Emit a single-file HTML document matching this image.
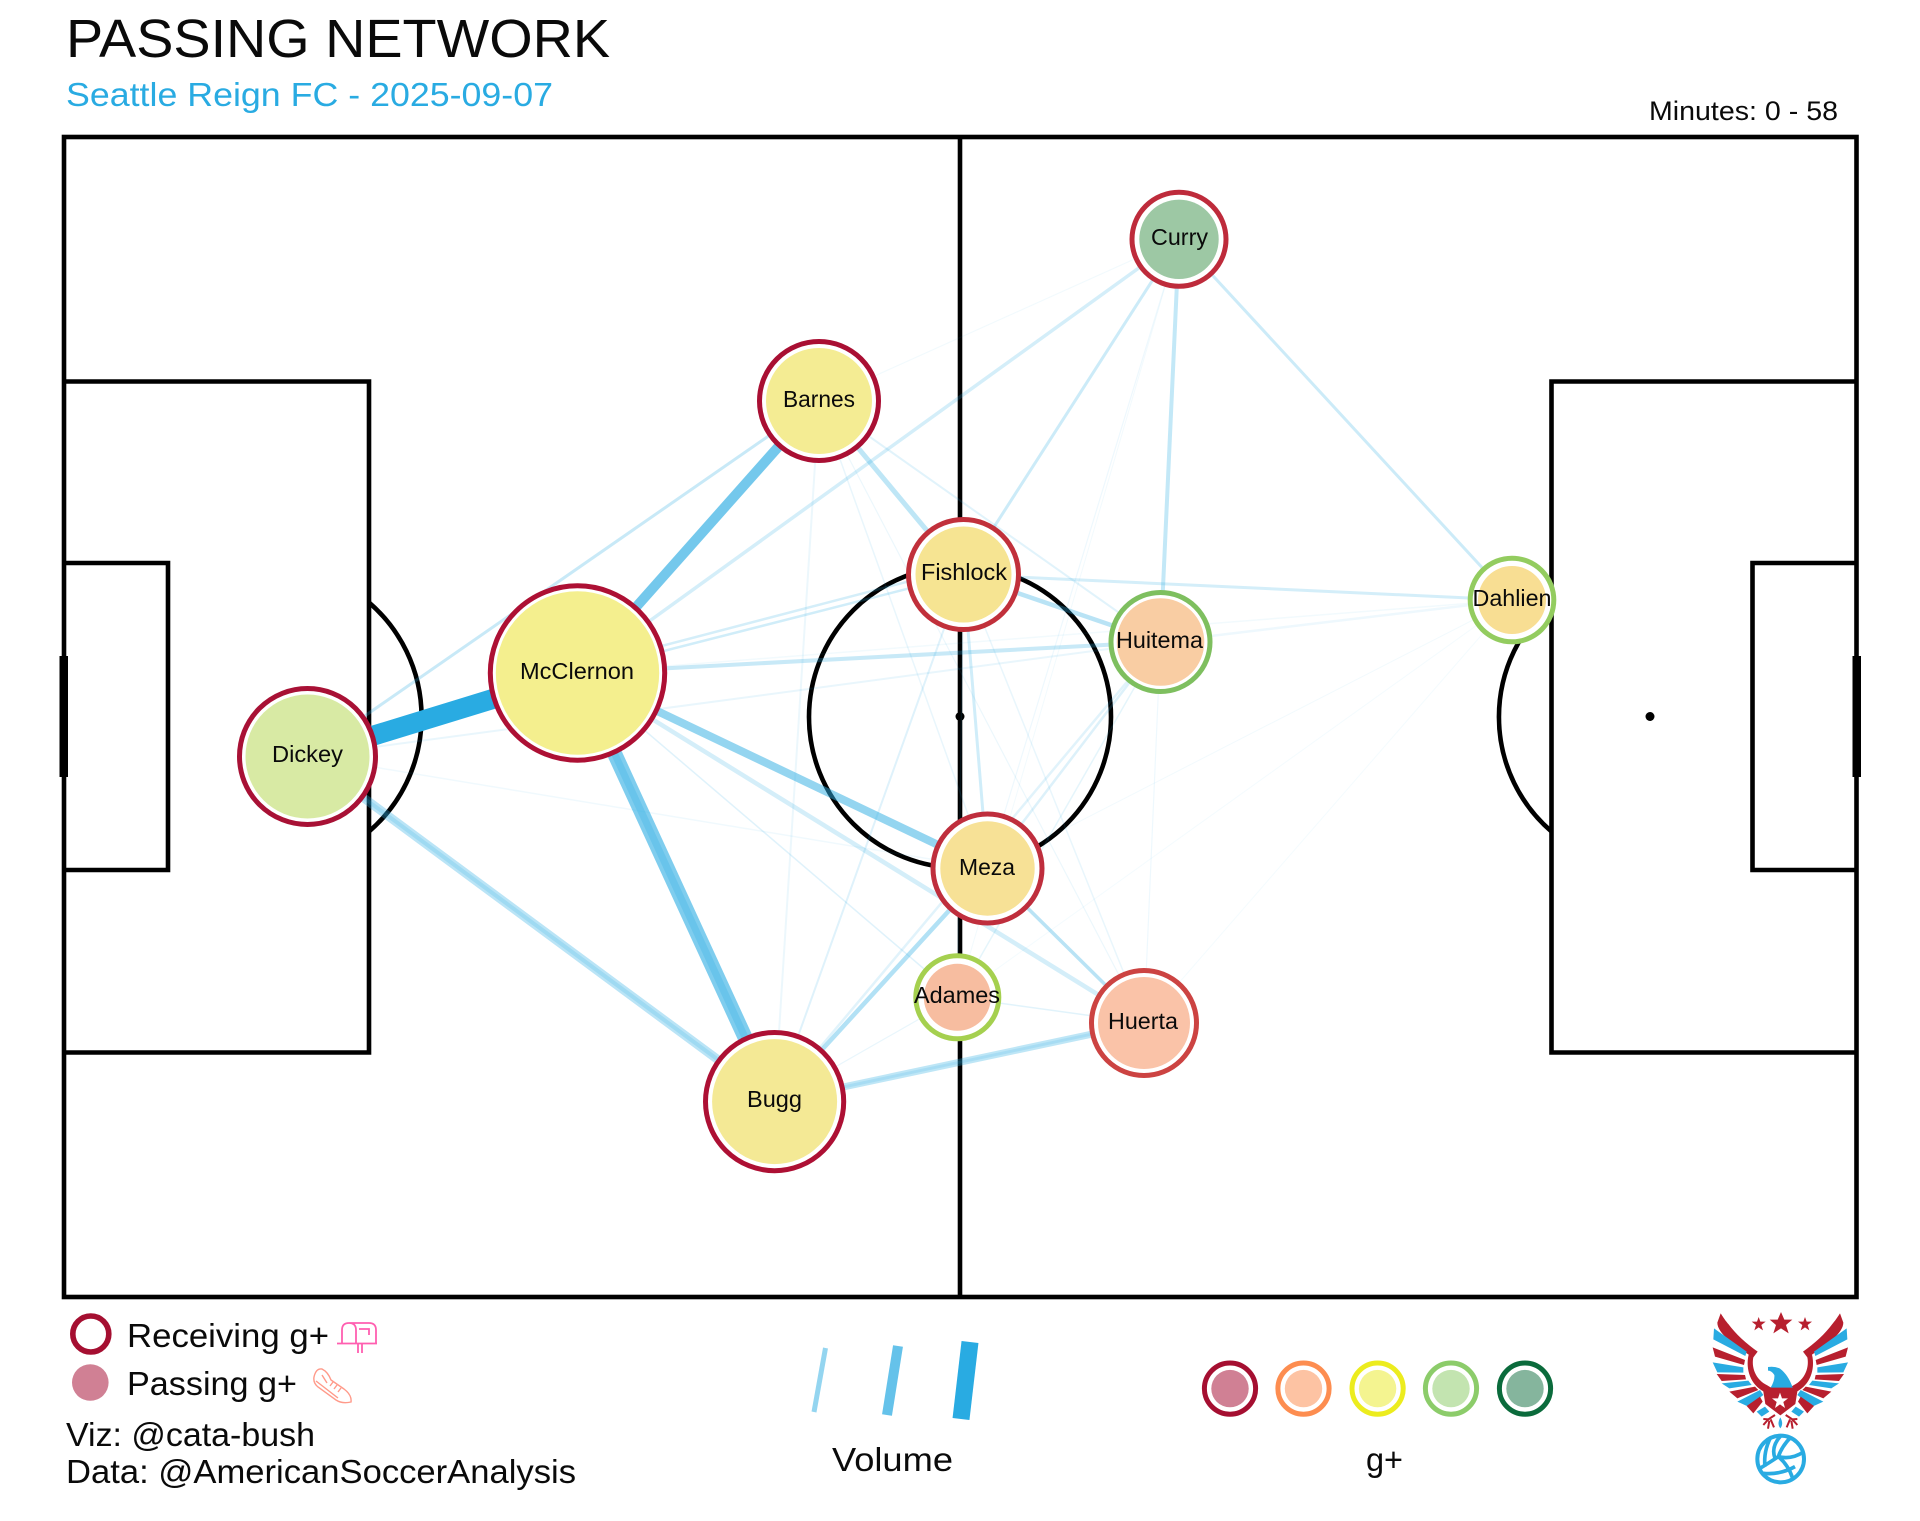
<!DOCTYPE html>
<html><head><meta charset="utf-8"><style>html,body{margin:0;padding:0;background:#fff}svg{display:block}text{font-family:"Liberation Sans",sans-serif;fill:#0a0a0a}</style></head>
<body>
<svg xmlns="http://www.w3.org/2000/svg" width="1920" height="1521" viewBox="0 0 1920 1521">
<rect width="1920" height="1521" fill="#fff"/>
<text x="66" y="57" font-size="54" textLength="544" lengthAdjust="spacingAndGlyphs">PASSING NETWORK</text>
<text x="66" y="106" font-size="33.5" style="fill:#29ABE2" textLength="487" lengthAdjust="spacingAndGlyphs">Seattle Reign FC - 2025-09-07</text>
<text x="1649" y="120" font-size="27" textLength="189" lengthAdjust="spacingAndGlyphs">Minutes: 0 - 58</text>

<!-- pitch -->
<g fill="none" stroke="#000" stroke-width="4.6">
<rect x="64" y="137" width="1792.5" height="1160"/>
<line x1="960" y1="137" x2="960" y2="1297"/>
<circle cx="960" cy="717" r="151"/>
<path d="M64 381.5H369V1052.5H64"/>
<path d="M64 563H168V870H64"/>
<path d="M1856.5 381.5H1551.5V1052.5H1856.5"/>
<path d="M1856.5 563H1752.5V870H1856.5"/>
<path d="M369 602.5A151 151 0 0 1 369 831.5"/>
<path d="M1551.5 602.5A151 151 0 0 0 1551.5 831.5"/>
</g>
<rect x="59.5" y="656" width="8.5" height="121" fill="#000"/>
<rect x="1852.5" y="656" width="8.5" height="121" fill="#000"/>
<circle cx="960" cy="716.5" r="4.5" fill="#000"/>
<circle cx="1650" cy="716.5" r="4.5" fill="#000"/>

<!-- edges -->
<g stroke="#29ABE2" fill="none">
<line x1="819" y1="401" x2="1179" y2="239" stroke-width="1.2" stroke-opacity=".06"/>
<line x1="819" y1="401" x2="1144" y2="1023" stroke-width="1.2" stroke-opacity=".09"/>
<line x1="819" y1="401" x2="987.5" y2="868.5" stroke-width="1.5" stroke-opacity=".1"/>
<line x1="819" y1="401" x2="1160.5" y2="642" stroke-width="2" stroke-opacity=".14"/>
<line x1="819" y1="401" x2="774.6" y2="1101.6" stroke-width="2" stroke-opacity=".09"/>
<line x1="307" y1="756" x2="987.5" y2="868.5" stroke-width="1.5" stroke-opacity=".07"/>
<line x1="307" y1="756" x2="1160.5" y2="642" stroke-width="2" stroke-opacity=".1"/>
<line x1="577.5" y1="673" x2="1512" y2="600" stroke-width="1.5" stroke-opacity=".06"/>
<line x1="577.5" y1="673" x2="957.3" y2="997.3" stroke-width="1.5" stroke-opacity=".15"/>
<line x1="774.6" y1="1101.6" x2="957.3" y2="997.3" stroke-width="1.2" stroke-opacity=".1"/>
<line x1="774.6" y1="1101.6" x2="963.5" y2="574.5" stroke-width="2" stroke-opacity=".15"/>
<line x1="774.6" y1="1101.6" x2="1160.5" y2="642" stroke-width="2.5" stroke-opacity=".14"/>
<line x1="963.5" y1="574.5" x2="1144" y2="1023" stroke-width="1.5" stroke-opacity=".1"/>
<line x1="963.5" y1="574.5" x2="957.3" y2="997.3" stroke-width="1.5" stroke-opacity=".1"/>
<line x1="1179" y1="239" x2="987.5" y2="868.5" stroke-width="1.2" stroke-opacity=".08"/>
<line x1="1179" y1="239" x2="957.3" y2="997.3" stroke-width="1" stroke-opacity=".06"/>
<line x1="1160.5" y1="642" x2="1144" y2="1023" stroke-width="1.2" stroke-opacity=".08"/>
<line x1="1160.5" y1="642" x2="957.3" y2="997.3" stroke-width="1.5" stroke-opacity=".12"/>
<line x1="1160.5" y1="642" x2="987.5" y2="868.5" stroke-width="2.5" stroke-opacity=".16"/>
<line x1="1512" y1="600" x2="1144" y2="1023" stroke-width="1" stroke-opacity=".05"/>
<line x1="1512" y1="600" x2="957.3" y2="997.3" stroke-width="1" stroke-opacity=".05"/>
<line x1="1512" y1="600" x2="987.5" y2="868.5" stroke-width="1" stroke-opacity=".06"/>
<line x1="1512" y1="600" x2="1160.5" y2="642" stroke-width="2.5" stroke-opacity=".08"/>
<line x1="957.3" y1="997.3" x2="1144" y2="1023" stroke-width="1.5" stroke-opacity=".14"/>
<line x1="307" y1="756" x2="819" y2="401" stroke-width="3" stroke-opacity=".26"/>
<line x1="577.5" y1="673" x2="1179" y2="239" stroke-width="3.5" stroke-opacity=".2"/>
<line x1="1179" y1="239" x2="963.5" y2="574.5" stroke-width="3" stroke-opacity=".24"/>
<line x1="1179" y1="239" x2="1160.5" y2="642" stroke-width="4" stroke-opacity=".28"/>
<line x1="1179" y1="239" x2="1512" y2="600" stroke-width="3" stroke-opacity=".24"/>
<line x1="819" y1="401" x2="963.5" y2="574.5" stroke-width="5" stroke-opacity=".3"/>
<line x1="577.5" y1="673" x2="963.5" y2="574.5" stroke-width="2.5" stroke-opacity=".22"/>
<line x1="577.5" y1="668" x2="963.5" y2="567" stroke-width="2.5" stroke-opacity=".2"/>
<line x1="577.5" y1="673" x2="1160.5" y2="642" stroke-width="4" stroke-opacity=".26"/>
<line x1="963.5" y1="574.5" x2="1512" y2="600" stroke-width="3" stroke-opacity=".2"/>
<line x1="963.5" y1="574.5" x2="1160.5" y2="642" stroke-width="4.5" stroke-opacity=".33"/>
<line x1="963.5" y1="574.5" x2="987.5" y2="868.5" stroke-width="3" stroke-opacity=".22"/>
<line x1="577.5" y1="673" x2="1144" y2="1023" stroke-width="4.5" stroke-opacity=".2"/>
<line x1="987.5" y1="868.5" x2="1144" y2="1023" stroke-width="3.5" stroke-opacity=".33"/>
<line x1="774.6" y1="1101.6" x2="987.5" y2="868.5" stroke-width="4.5" stroke-opacity=".36"/>
<line x1="774.6" y1="1101.6" x2="1144" y2="1023" stroke-width="7" stroke-opacity=".3"/>
<line x1="774.6" y1="1101.6" x2="1144" y2="1023" stroke-width="3" stroke-opacity=".15"/>
<line x1="577.5" y1="673" x2="987.5" y2="868.5" stroke-width="8" stroke-opacity=".5"/>
<line x1="307" y1="756" x2="774.6" y2="1101.6" stroke-width="9" stroke-opacity=".32"/>
<line x1="307" y1="756" x2="774.6" y2="1101.6" stroke-width="4" stroke-opacity=".18"/>
<line x1="577.5" y1="673" x2="819" y2="401" stroke-width="10" stroke-opacity=".65"/>
<line x1="577.5" y1="673" x2="774.6" y2="1101.6" stroke-width="15" stroke-opacity=".6"/>
<line x1="577.5" y1="673" x2="774.6" y2="1101.6" stroke-width="7" stroke-opacity=".25"/>
<line x1="307" y1="756" x2="577.5" y2="673" stroke-width="20" stroke-opacity="1"/>
</g>

<!-- nodes: white disc with ring, then inner fill -->
<g stroke-width="5">
<circle cx="1179" cy="239.3" r="47" fill="#fff" stroke="#BE2B3B"/><circle cx="1179" cy="239.3" r="39.7" fill="#9DC8A4"/>
<circle cx="819" cy="401" r="59.5" fill="#fff" stroke="#A90F33"/><circle cx="819" cy="401" r="53" fill="#F4EC93"/>
<circle cx="577.5" cy="673" r="87.2" fill="#fff" stroke="#AD1034"/><circle cx="577.5" cy="673" r="81.7" fill="#F4EF8E"/>
<circle cx="307.5" cy="756.5" r="68" fill="#fff" stroke="#A81135"/><circle cx="307.5" cy="756.5" r="62" fill="#D8EAA4"/>
<circle cx="774.6" cy="1101.6" r="69.1" fill="#fff" stroke="#AD1034"/><circle cx="774.6" cy="1101.6" r="62.5" fill="#F4E995"/>
<circle cx="963.5" cy="574.5" r="55" fill="#fff" stroke="#C1303B"/><circle cx="963.5" cy="574.5" r="48" fill="#F6E492"/>
<circle cx="1160.5" cy="642" r="49.5" fill="#fff" stroke="#7EBF5F"/><circle cx="1160.5" cy="642" r="43.8" fill="#F9CDA3"/>
<circle cx="1512" cy="600" r="41.8" fill="#fff" stroke="#93CC5F"/><circle cx="1512" cy="600" r="34" fill="#F8DE93"/>
<circle cx="987.5" cy="868.5" r="54.5" fill="#fff" stroke="#BF2E3D"/><circle cx="987.5" cy="868.5" r="47.2" fill="#F7E196"/>
<circle cx="957.3" cy="997.3" r="41.5" fill="#fff" stroke="#A5D04F"/><circle cx="957.3" cy="997.3" r="33.5" fill="#F7BDA0"/>
<circle cx="1144" cy="1023" r="52.5" fill="#fff" stroke="#CC4342"/><circle cx="1144" cy="1023" r="46" fill="#FAC3A8"/>
</g>
<g font-size="23.5">
<text x="1151" y="245" textLength="57" lengthAdjust="spacingAndGlyphs">Curry</text>
<text x="783" y="407" textLength="72" lengthAdjust="spacingAndGlyphs">Barnes</text>
<text x="520" y="679" textLength="114" lengthAdjust="spacingAndGlyphs">McClernon</text>
<text x="272" y="762" textLength="71" lengthAdjust="spacingAndGlyphs">Dickey</text>
<text x="747" y="1107" textLength="55" lengthAdjust="spacingAndGlyphs">Bugg</text>
<text x="921" y="580" textLength="86" lengthAdjust="spacingAndGlyphs">Fishlock</text>
<text x="1116" y="648" textLength="87" lengthAdjust="spacingAndGlyphs">Huitema</text>
<text x="1472.5" y="606" textLength="79" lengthAdjust="spacingAndGlyphs">Dahlien</text>
<text x="959" y="875" textLength="56" lengthAdjust="spacingAndGlyphs">Meza</text>
<text x="914" y="1003" textLength="86" lengthAdjust="spacingAndGlyphs">Adames</text>
<text x="1108" y="1029" textLength="70" lengthAdjust="spacingAndGlyphs">Huerta</text>
</g>

<!-- legend left -->
<circle cx="90.8" cy="1334" r="18" fill="none" stroke="#A50F31" stroke-width="5.6"/>
<circle cx="90.3" cy="1382.5" r="18.3" fill="#D08094"/>
<text x="127" y="1347" font-size="33" textLength="202" lengthAdjust="spacingAndGlyphs">Receiving g+</text>
<text x="127" y="1395" font-size="33" textLength="170" lengthAdjust="spacingAndGlyphs">Passing g+</text>
<g fill="none" stroke="#FF5FB0" stroke-width="1.8">
<path d="M337 1343.5H377M342 1343V1330Q342 1323 349 1323H369Q376 1323 376 1330V1343M349 1323Q356 1323 356 1330V1343"/>
<path d="M359 1329H369V1335M359 1329h6"/>
<path d="M358 1344V1353M362 1344V1353"/>
</g>
<g fill="none" stroke="#FF9A8A" stroke-width="1.4">
<path d="M314 1377Q316 1368 322 1369Q328 1372 331 1380L344 1389Q352 1395 351 1402Q342 1404 336 1400L318 1387Q313 1383 314 1377Z"/>
<path d="M322 1375L327 1383M316 1381L338 1398M333 1382L330 1386M337 1385L334 1389M341 1388L338 1392"/>
</g>
<text x="66" y="1446" font-size="33" textLength="249" lengthAdjust="spacingAndGlyphs">Viz: @cata-bush</text>
<text x="66" y="1483" font-size="33" textLength="510" lengthAdjust="spacingAndGlyphs">Data: @AmericanSoccerAnalysis</text>

<!-- volume legend -->
<g stroke="#29ABE2">
<line x1="825.5" y1="1348" x2="814" y2="1412" stroke-width="5" stroke-opacity=".5"/>
<line x1="898" y1="1346" x2="887" y2="1415" stroke-width="10" stroke-opacity=".72"/>
<line x1="970" y1="1342" x2="961" y2="1419" stroke-width="17"/>
</g>
<text x="832" y="1471" font-size="33" textLength="121" lengthAdjust="spacingAndGlyphs">Volume</text>
<text x="1366" y="1471" font-size="33" textLength="37" lengthAdjust="spacingAndGlyphs">g+</text>

<!-- g+ legend -->
<g stroke-width="5">
<circle cx="1230" cy="1388.6" r="25.6" fill="#fff" stroke="#A50F31"/><circle cx="1230" cy="1388.6" r="18.7" fill="#D08094"/>
<circle cx="1303.5" cy="1388.6" r="25.6" fill="#fff" stroke="#FD8D50"/><circle cx="1303.5" cy="1388.6" r="18.7" fill="#FDC3A3"/>
<circle cx="1377.6" cy="1388.6" r="25.6" fill="#fff" stroke="#ECEC1E"/><circle cx="1377.6" cy="1388.6" r="18.7" fill="#F4F490"/>
<circle cx="1451" cy="1388.6" r="25.6" fill="#fff" stroke="#8CCC6A"/><circle cx="1451" cy="1388.6" r="18.7" fill="#C3E4B0"/>
<circle cx="1525" cy="1388.6" r="25.6" fill="#fff" stroke="#0B6B3C"/><circle cx="1525" cy="1388.6" r="18.7" fill="#85B59D"/>
</g>

<!-- logo -->
<g transform="translate(1680 1300) scale(.33333)">
<g fill="#B71F2E">
<polygon points="303,36 313,59 337,59 318,75 326,100 303,85 280,100 288,75 269,59 293,59"/>
<polygon points="236,51 241,65 257,65 244,75 249,91 236,82 223,91 228,75 215,65 231,65"/>
<polygon points="375,51 380,65 396,65 383,75 388,91 375,82 362,91 367,75 354,65 370,65"/>
</g>
<g id="w">
<path d="M122 40C135 60 137 62 145 72C165 100 200 132 233 155L220 172C214 200 225 238 262 256L275 264L250 274C214 255 195 210 206 164C165 137 112 100 112 68Z" fill="#B71F2E"/>
<g fill="#29ABE2">
<polygon points="102,85 200,155 196,168 100,118"/>
<polygon points="98,187 190,202 190,218 112,217"/>
<polygon points="125,250 205,242 215,255 148,265"/>
<polygon points="172,305 240,270 250,285 205,320"/>
<polygon points="230,335 255,320 268,335 245,350"/>
</g>
<g fill="#B71F2E">
<polygon points="98,142 195,180 192,195 105,170"/>
<polygon points="110,222 195,225 198,238 125,243"/>
<polygon points="148,275 225,260 235,270 172,295"/>
<polygon points="200,318 240,290 248,305 220,340"/>
</g>
<path d="M285 345L265 358L250 357M265 358L250 375M268 362L264 386M272 358L282 382" fill="none" stroke="#B71F2E" stroke-width="6"/>
</g>
<use href="#w" transform="matrix(-1 0 0 1 602 0)"/>
<path d="M248 262H354L346 312L301 346L256 312Z" fill="#B71F2E"/>
<polygon points="300,278 306,295 324,295 310,306 315,324 300,313 285,324 290,306 276,295 294,295" fill="#fff"/>
<path d="M264 201Q285 198 300 206Q325 225 338 263H272Q285 240 283 225Q275 212 264 212Z" fill="#29ABE2"/>
<path d="M301 352Q290 372 301 385Q312 372 301 352Z" fill="#29ABE2"/>
<circle cx="302" cy="477" r="70" fill="#fff" stroke="#29ABE2" stroke-width="12"/>
<g fill="none" stroke="#29ABE2" stroke-width="11">
<path d="M272 412Q250 455 255 500"/>
<path d="M302 408Q272 440 285 475"/>
<path d="M332 412Q305 440 295 470Q265 490 240 505"/>
<path d="M295 470Q335 480 372 455"/>
<path d="M295 470Q325 495 338 535"/>
<path d="M250 520Q300 525 345 500"/>
</g>
</g>
</svg>
</body></html>
